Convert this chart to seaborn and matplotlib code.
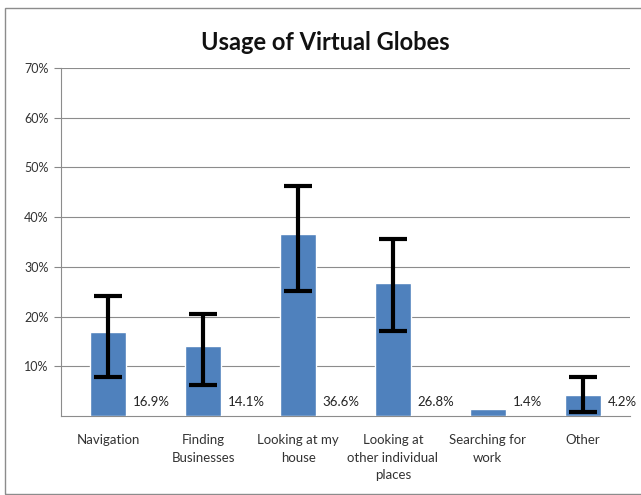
import seaborn as sns
import pandas as pd
import matplotlib.pyplot as plt
from matplotlib.patches import Rectangle

categories = ["Navigation", "Finding\nBusinesses", "Looking at my\nhouse",
              "Looking at\nother individual\nplaces", "Searching for\nwork", "Other"]
values = [16.9, 14.1, 36.6, 26.8, 1.4, 4.2]
err_low = [7.8, 6.2, 25.2, 17.1, 1.4, 0.8]
err_high = [24.1, 20.5, 46.3, 35.6, 1.4, 7.9]
show_err = [True, True, True, True, False, True]
labels = ["16.9%", "14.1%", "36.6%", "26.8%", "1.4%", "4.2%"]

sns.set_theme(style="white")
plt.rcParams['font.family'] = ['Lato', 'DejaVu Sans']

fig = plt.figure(figsize=(6.41, 4.95), dpi=100)
ax = fig.add_axes([0.0952, 0.1596, 0.8878, 0.703])

df = pd.DataFrame({"cat": categories, "val": values})
sns.barplot(data=df, x="cat", y="val", color="#4F81BD", saturation=1,
            width=0.38, ax=ax, zorder=3)

# error bars
for i in range(len(values)):
    if not show_err[i]:
        continue
    lo = values[i] - err_low[i]
    hi = err_high[i] - values[i]
    ax.errorbar(i, values[i], yerr=[[lo], [hi]], fmt="none", ecolor="black",
                elinewidth=3, capsize=10, capthick=3, zorder=4)

# data labels
for i, v in enumerate(values):
    ax.text(i + 0.26, 2.8, labels[i], ha="left", va="center",
            fontsize=9.5, color="#222222", zorder=5)

ax.set_ylim(0, 70)
ax.set_xlim(-0.5, 5.5)
ax.set_yticks(range(10, 80, 10))
ax.set_yticklabels([str(t) + "%" for t in range(10, 80, 10)], fontsize=9, color="#333333")
ax.tick_params(axis="y", length=5, color="#888888", width=0.8, pad=4, left=True)
ax.tick_params(axis="x", length=0, pad=13, labelsize=9.5, labelcolor="#333333")
for t in ax.get_xticklabels():
    t.set_linespacing(1.55)
ax.set_xlabel("")
ax.set_ylabel("")
ax.grid(axis="y", color="#8c8c8c", linewidth=0.8, zorder=0)
ax.set_axisbelow(True)

for s in ["top", "right"]:
    ax.spines[s].set_visible(False)
ax.spines["left"].set_color("#8c8c8c")
ax.spines["bottom"].set_color("#8c8c8c")
ax.spines["left"].set_linewidth(0.8)
ax.spines["bottom"].set_linewidth(0.8)

fig.text(0.507, 0.915, "Usage of Virtual Globes", ha="center", va="center",
         fontsize=17, fontweight="bold", color="#111111")

# outer chart frame
fig.patches.append(Rectangle((0.008, 0.002), 0.995, 0.982, transform=fig.transFigure,
                             fill=False, edgecolor="#8c8c8c", linewidth=1))

plt.savefig("out.png", dpi=100)
